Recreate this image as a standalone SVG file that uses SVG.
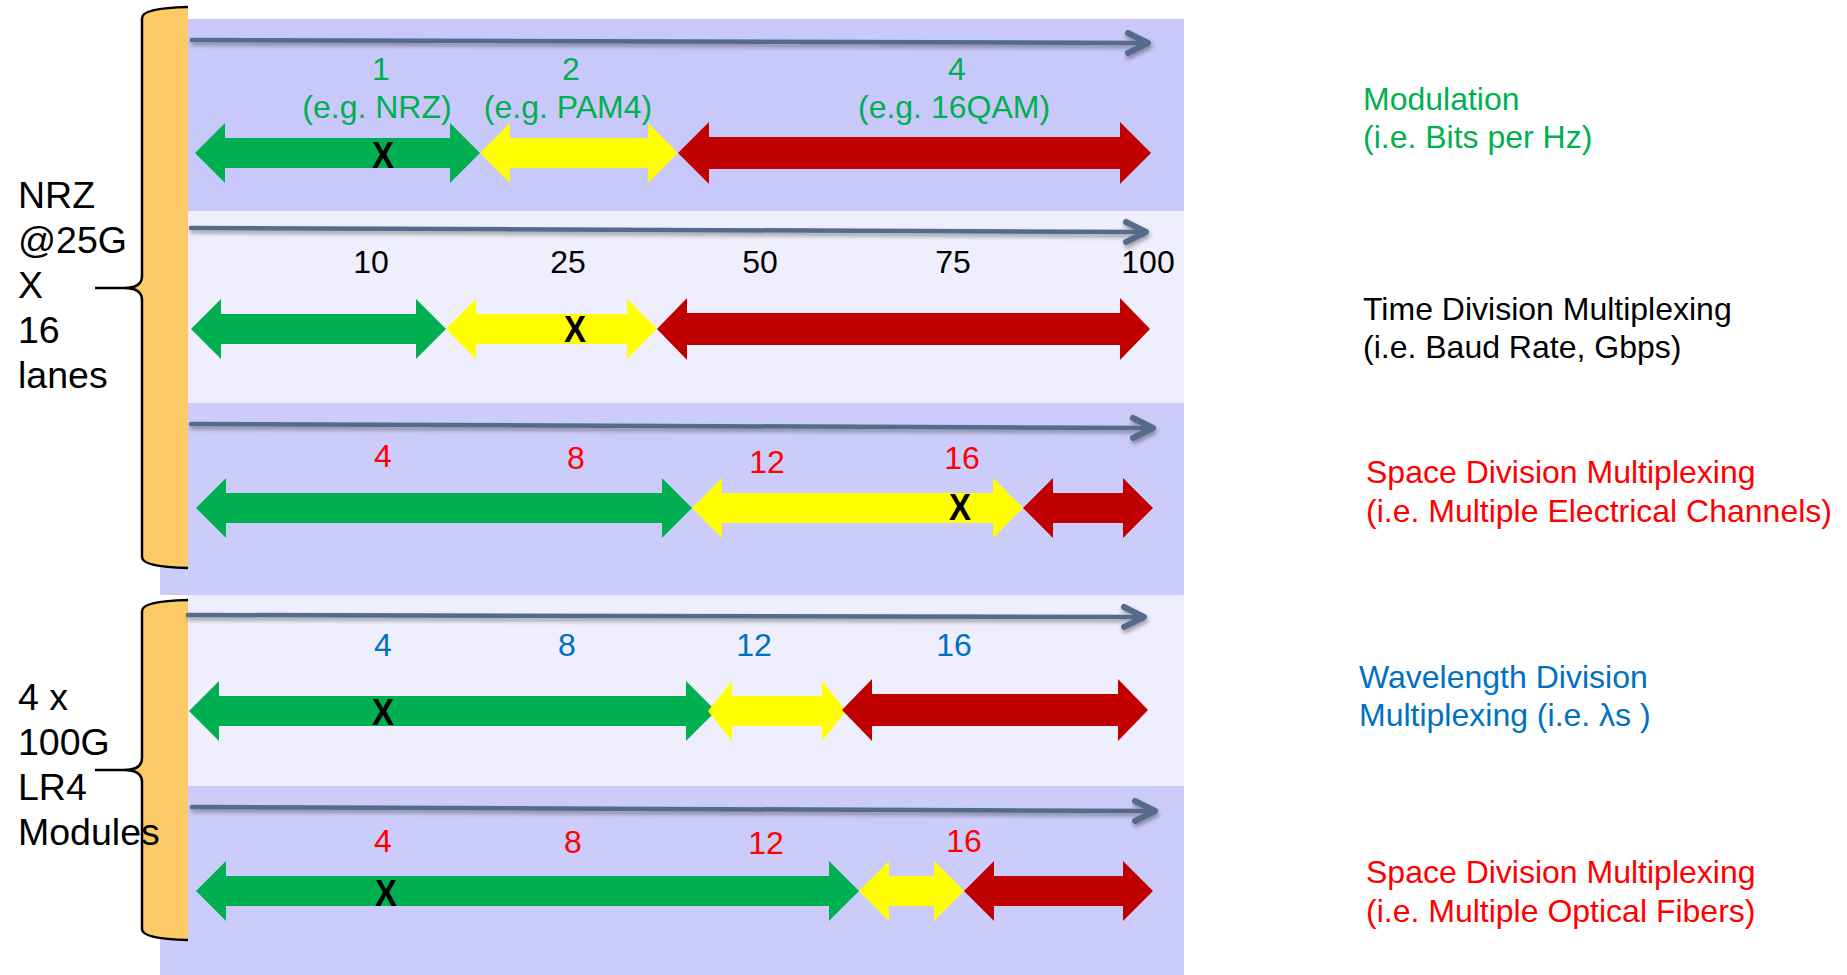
<svg xmlns="http://www.w3.org/2000/svg" width="1847" height="975" viewBox="0 0 1847 975">
  <style>
    text { font-family: "Liberation Sans", Arial, sans-serif; }
    .num { font-size: 32px; text-anchor: middle; }
    .side { font-size: 37.5px; fill: #000; }
    .lbl { font-size: 32px; }
    .x { font-size: 36px; font-weight: bold; text-anchor: middle; fill: #000; }
    .g { fill: #00B050; }
    .r { fill: #FF0000; }
    .b { fill: #0070C0; }
    .k { fill: #000; }
    .axis { stroke: #576A8C; fill: none; stroke-linecap: round; stroke-linejoin: round; filter: url(#shadow); }
    .shaft { stroke-width: 4.5; }
    .head { stroke-width: 6; }
    .brace { fill: none; stroke: #000; stroke-width: 2.5; }
    .ag { fill: #00B050; }
    .ay { fill: #FFFF00; }
    .ar { fill: #C00000; }
  </style>
  <defs>
    <filter id="shadow" x="-5%" y="-100%" width="110%" height="400%">
      <feDropShadow dx="1" dy="3" stdDeviation="2" flood-color="#000" flood-opacity="0.35"/>
    </filter>
  </defs>

  <rect width="1847" height="975" fill="#FFFFFF"/>

  <!-- background bands -->
  <g id="bands">
    <rect x="188" y="19" width="996" height="192" fill="#C8C8FA"/>
    <rect x="188" y="211" width="996" height="192" fill="#EEEEFC"/>
    <rect x="160" y="403" width="1024" height="192" fill="#CCCCFA"/>
    <rect x="188" y="595" width="996" height="191" fill="#EEEEFC"/>
    <rect x="160" y="786" width="1024" height="189" fill="#CCCCFA"/>
  </g>

  <!-- left braces -->
  <g id="brace-electrical">
    <path d="M188,7 Q142,8 142,18 L142,276 Q142,288 124,288 Q142,288 142,300 L142,557 Q142,567 188,568 Z" fill="#FDCA68"/>
    <path class="brace" d="M188,7 Q142,8 142,18 L142,276 Q142,288 124,288 L95,288 M124,288 Q142,288 142,300 L142,557 Q142,567 188,568"/>
    <text class="side" x="18" y="208">NRZ</text>
    <text class="side" x="18" y="253">@25G</text>
    <text class="side" x="18" y="298">X</text>
    <text class="side" x="18" y="343">16</text>
    <text class="side" x="18" y="388">lanes</text>
  </g>
  <g id="brace-optical">
    <path d="M188,600 Q142,601 142,611 L142,758 Q142,770 124,770 Q142,770 142,782 L142,929 Q142,939 188,940 Z" fill="#FDCA68"/>
    <path class="brace" d="M188,600 Q142,601 142,611 L142,758 Q142,770 124,770 L95,770 M124,770 Q142,770 142,782 L142,929 Q142,939 188,940"/>
    <text class="side" x="18" y="710">4 x</text>
    <text class="side" x="18" y="755">100G</text>
    <text class="side" x="18" y="800">LR4</text>
    <text class="side" x="18" y="845">Modules</text>
  </g>

  <!-- axis arrows -->
  <g id="connectors">
    <g class="axis"><path class="shaft" d="M192,40 L1146,43"/><path class="head" d="M1128,33 L1148,43 L1128,53"/></g>
    <g class="axis"><path class="shaft" d="M191,228 L1144,232"/><path class="head" d="M1126,222 L1146,232 L1126,242"/></g>
    <g class="axis"><path class="shaft" d="M191,424 L1151,428"/><path class="head" d="M1133,418 L1153,428 L1133,438"/></g>
    <g class="axis"><path class="shaft" d="M188,615 L1142,617"/><path class="head" d="M1124,607 L1144,617 L1124,627"/></g>
    <g class="axis"><path class="shaft" d="M192,807 L1153,811"/><path class="head" d="M1135,801 L1155,811 L1135,821"/></g>
  </g>

  <!-- row 1: modulation -->
  <g id="row-modulation">
    <polygon class="ag" points="195,153 225,123 225,138 450,138 450,123 480,153 450,183 450,168 225,168 225,183"/>
    <polygon class="ay" points="480,153 510,123 510,138 648,138 648,123 678,153 648,183 648,168 510,168 510,183"/>
    <polygon class="ar" points="678,153 709,122 709,137 1120,137 1120,122 1151,153 1120,184 1120,169 709,169 709,184"/>
    <text class="num g" x="381" y="80">1</text>
    <text class="num g" x="377" y="118">(e.g. NRZ)</text>
    <text class="num g" x="571" y="80">2</text>
    <text class="num g" x="568" y="118">(e.g. PAM4)</text>
    <text class="num g" x="957" y="80">4</text>
    <text class="num g" x="954" y="118">(e.g. 16QAM)</text>
    <text class="x" x="383" y="168" textLength="22" lengthAdjust="spacingAndGlyphs">X</text>
    <text class="lbl g" x="1363" y="110">Modulation</text>
    <text class="lbl g" x="1363" y="148">(i.e. Bits per Hz)</text>
  </g>

  <!-- row 2: time division -->
  <g id="row-tdm">
    <polygon class="ag" points="191,329 221,299 221,314 416,314 416,299 446,329 416,359 416,344 221,344 221,359"/>
    <polygon class="ay" points="446,329 476,299 476,314 627,314 627,299 657,329 627,359 627,344 476,344 476,359"/>
    <polygon class="ar" points="657,329 687,298 687,313 1120,313 1120,298 1150,329 1120,360 1120,345 687,345 687,360"/>
    <text class="num k" x="371" y="273">10</text>
    <text class="num k" x="568" y="273">25</text>
    <text class="num k" x="760" y="273">50</text>
    <text class="num k" x="953" y="273">75</text>
    <text class="num k" x="1148" y="273">100</text>
    <text class="x" x="575" y="342" textLength="22" lengthAdjust="spacingAndGlyphs">X</text>
    <text class="lbl k" x="1363" y="320">Time Division Multiplexing</text>
    <text class="lbl k" x="1363" y="358">(i.e. Baud Rate, Gbps)</text>
  </g>

  <!-- row 3: space division, electrical -->
  <g id="row-sdm-electrical">
    <polygon class="ag" points="196,508 226,478 226,493 662,493 662,478 692,508 662,538 662,523 226,523 226,538"/>
    <polygon class="ay" points="692,508 722,478 722,493 993,493 993,478 1023,508 993,538 993,523 722,523 722,538"/>
    <polygon class="ar" points="1023,508 1053,478 1053,493 1123,493 1123,478 1153,508 1123,538 1123,523 1053,523 1053,538"/>
    <text class="num r" x="383" y="467">4</text>
    <text class="num r" x="576" y="469">8</text>
    <text class="num r" x="767" y="473">12</text>
    <text class="num r" x="962" y="469">16</text>
    <text class="x" x="960" y="520" textLength="22" lengthAdjust="spacingAndGlyphs">X</text>
    <text class="lbl r" x="1366" y="483">Space Division Multiplexing</text>
    <text class="lbl r" x="1366" y="522">(i.e. Multiple Electrical Channels)</text>
  </g>

  <!-- row 4: wavelength division -->
  <g id="row-wdm">
    <polygon class="ag" points="189,711 219,681 219,696 686,696 686,681 716,711 686,741 686,726 219,726 219,741"/>
    <polygon class="ay" points="708,711 732,681 732,696 822,696 822,681 846,711 822,741 822,726 732,726 732,741"/>
    <polygon class="ar" points="842,710 872,679 872,694 1118,694 1118,679 1148,710 1118,741 1118,726 872,726 872,741"/>
    <text class="num b" x="383" y="656">4</text>
    <text class="num b" x="567" y="656">8</text>
    <text class="num b" x="754" y="656">12</text>
    <text class="num b" x="954" y="656">16</text>
    <text class="x" x="383" y="725" textLength="22" lengthAdjust="spacingAndGlyphs">X</text>
    <text class="lbl b" x="1359" y="688">Wavelength Division</text>
    <text class="lbl b" x="1359" y="726">Multiplexing (i.e. λs )</text>
  </g>

  <!-- row 5: space division, optical -->
  <g id="row-sdm-optical">
    <polygon class="ag" points="196,891 226,861 226,876 829,876 829,861 859,891 829,921 829,906 226,906 226,921"/>
    <polygon class="ay" points="859,891 889,861 889,876 934,876 934,861 964,891 934,921 934,906 889,906 889,921"/>
    <polygon class="ar" points="964,891 994,861 994,876 1123,876 1123,861 1153,891 1123,921 1123,906 994,906 994,921"/>
    <text class="num r" x="383" y="852">4</text>
    <text class="num r" x="573" y="853">8</text>
    <text class="num r" x="766" y="854">12</text>
    <text class="num r" x="964" y="852">16</text>
    <text class="x" x="386" y="906" textLength="22" lengthAdjust="spacingAndGlyphs">X</text>
    <text class="lbl r" x="1366" y="883">Space Division Multiplexing</text>
    <text class="lbl r" x="1366" y="922">(i.e. Multiple Optical Fibers)</text>
  </g>
</svg>
